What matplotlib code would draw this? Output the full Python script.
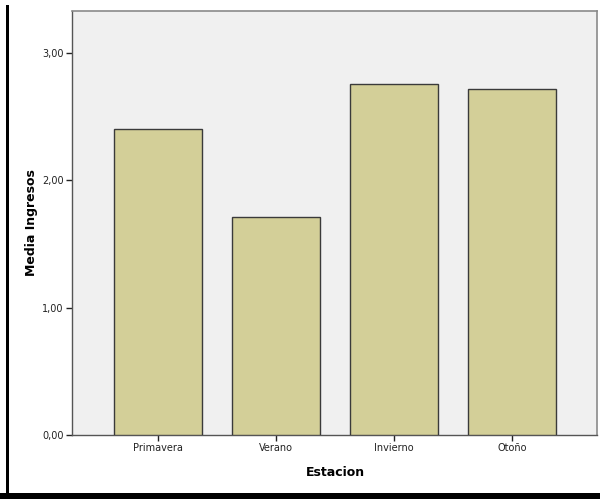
import matplotlib
matplotlib.use('Agg')
import matplotlib.pyplot as plt
from matplotlib.patches import Rectangle
from matplotlib.ticker import FuncFormatter

# ---- data ----
estaciones = ['Primavera', 'Verano', 'Invierno', 'Otoño']
media_ingresos = [2.40, 1.715, 2.76, 2.72]

W, H = 600, 499
fig = plt.figure(figsize=(W / 100, H / 100), dpi=100)
fig.patch.set_facecolor('white')

# plot area in pixels: left 72, right 597, top 11, bottom 435
ax = fig.add_axes([72 / W, 1 - 435 / H, (597 - 72) / W, (435 - 11) / H])
ax.set_facecolor('#f0f0f0')

x = range(len(estaciones))
ax.bar(x, media_ingresos, width=0.75, color='#d3cf98',
       edgecolor='#3a3a3a', linewidth=1.0, zorder=3)

ax.set_xlim(-0.73, 3.72)
ax.set_ylim(0, 3.33)
ax.set_yticks([0, 1, 2, 3])
ax.yaxis.set_major_formatter(FuncFormatter(lambda v, p: f'{v:.2f}'.replace('.', ',')))
ax.set_xticks(list(x))
ax.set_xticklabels(estaciones)

ax.tick_params(axis='both', labelsize=7, colors='#222222', length=4, width=1.0, pad=2)

for side in ['top', 'right']:
    ax.spines[side].set_color('#8a8a8a')
    ax.spines[side].set_linewidth(1.2)
for side in ['left', 'bottom']:
    ax.spines[side].set_color('#555555')
    ax.spines[side].set_linewidth(1.0)

# axis titles placed where the reference has them
fig.text(31 / W, 1 - 223 / H, 'Media Ingresos', rotation=90, ha='center', va='center',
         fontsize=9, fontweight='bold')
fig.text(335 / W, 1 - 472 / H, 'Estacion', ha='center', va='center',
         fontsize=9, fontweight='bold')

# black frame pieces around the exported chart
fig.add_artist(Rectangle((6 / W, 0), 2.5 / W, 1 - 5 / H, transform=fig.transFigure,
                         facecolor='black', edgecolor='none'))
fig.add_artist(Rectangle((0, 0), 1, 6 / H, transform=fig.transFigure,
                         facecolor='black', edgecolor='none'))

fig.savefig('out.png', dpi=100)
